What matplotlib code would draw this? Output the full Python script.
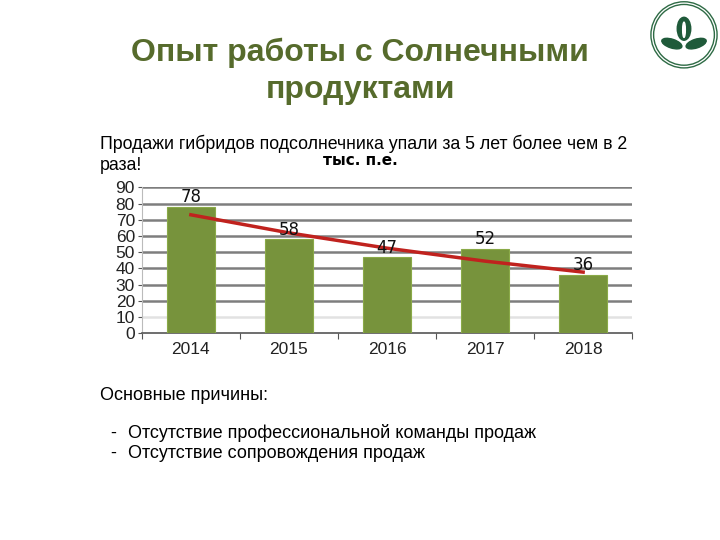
import numpy as np
import matplotlib.pyplot as plt
from matplotlib.patches import Circle, Ellipse

years = ['2014', '2015', '2016', '2017', '2018']
sales = [78, 58, 47, 52, 36]
y_ticks = [0, 10, 20, 30, 40, 50, 60, 70, 80, 90]

title = 'Опыт работы с Солнечными\nпродуктами'
subtitle = 'Продажи гибридов подсолнечника упали за 5 лет более чем в 2\nраза!'
unit = 'тыс. п.е.'
reasons_head = 'Основные причины:'
reasons = ['Отсутствие профессиональной команды продаж',
           'Отсутствие сопровождения продаж']

plt.rcParams['font.family'] = ['Liberation Sans', 'DejaVu Sans']

fig = plt.figure(figsize=(7.2, 5.4), dpi=100)
fig.patch.set_facecolor('white')

# title and texts
fig.text(0.5, 0.868, title, ha='center', va='center', fontsize=23,
         fontweight='bold', color='#566B2C', linespacing=1.3)
fig.text(0.139, 0.715, subtitle, ha='left', va='center', fontsize=12.8,
         color='black', linespacing=1.3)
fig.text(0.5, 0.702, unit, ha='center', va='center', fontsize=11,
         fontweight='bold', color='black', family='DejaVu Sans')
fig.text(0.139, 0.268, reasons_head, ha='left', va='center', fontsize=13)
for i, r in enumerate(reasons):
    yy = 0.198 - i * 0.037
    fig.text(0.157, yy, '-', ha='center', va='center', fontsize=13)
    fig.text(0.178, yy, r, ha='left', va='center', fontsize=13)

# chart
ax = fig.add_axes([0.197, 0.383, 0.681, 0.270])
x = np.arange(len(years))
ax.bar(x, sales, width=0.49, color='#77933C', edgecolor='#8AAA48',
       linewidth=0.8, zorder=3)
for xi, v in zip(x, sales):
    ax.text(xi, v + 0.3, str(v), ha='center', va='bottom', fontsize=12,
            color='#111111', zorder=5, family='DejaVu Sans')

# exponential trend line fitted to the data
coef = np.polyfit(x, np.log(sales), 1)
trend = np.exp(np.polyval(coef, x))
ax.plot(x, trend, color='#C0221E', linewidth=2.5, zorder=4)

ax.set_xlim(-0.5, len(years) - 0.5)
ax.set_ylim(0, 90)
ax.set_yticks(y_ticks)
ax.set_yticklabels([str(t) for t in y_ticks], fontsize=12.5, color='#222222')
ax.set_xticks(np.arange(-0.5, len(years), 1), minor=False)
ax.set_xticklabels([''] * (len(years) + 1))
ax.set_xticks(x, minor=True)
ax.set_xticklabels(years, minor=True, fontsize=12.5, color='#222222')
ax.tick_params(axis='x', which='minor', length=0, pad=6)
ax.tick_params(axis='x', which='major', length=4, color='#555555')
ax.tick_params(axis='y', length=3, pad=2, color='#555555')
for t in y_ticks[1:]:
    ax.axhline(t, color='#7E7E7E' if t != 10 else '#E2E2E2', linewidth=1.8, zorder=1)
for s in ['top', 'right']:
    ax.spines[s].set_visible(False)
ax.spines['left'].set_color('#BBBBBB')
ax.spines['bottom'].set_color('#555555')
ax.spines['bottom'].set_linewidth(1.2)

# logo
logo = fig.add_axes([0.903, 0.873, 0.094, 0.125])
logo.set_xlim(-1, 1)
logo.set_ylim(-1, 1)
logo.set_aspect('equal')
logo.axis('off')
logo.add_patch(Circle((0, 0), 0.98, fill=False, edgecolor='#2E6B45', linewidth=1.0))
logo.add_patch(Circle((0, 0), 0.90, fill=False, edgecolor='#2E6B45', linewidth=1.0))
logo.add_patch(Ellipse((0, 0.18), 0.40, 0.68, color='#1F5A3A'))
logo.add_patch(Ellipse((0.0, 0.15), 0.08, 0.45, color='white'))
logo.add_patch(Ellipse((-0.36, -0.26), 0.62, 0.26, angle=-18, color='#1F5A3A'))
logo.add_patch(Ellipse((0.36, -0.26), 0.62, 0.26, angle=18, color='#1F5A3A'))

fig.savefig('out.png', dpi=100)
